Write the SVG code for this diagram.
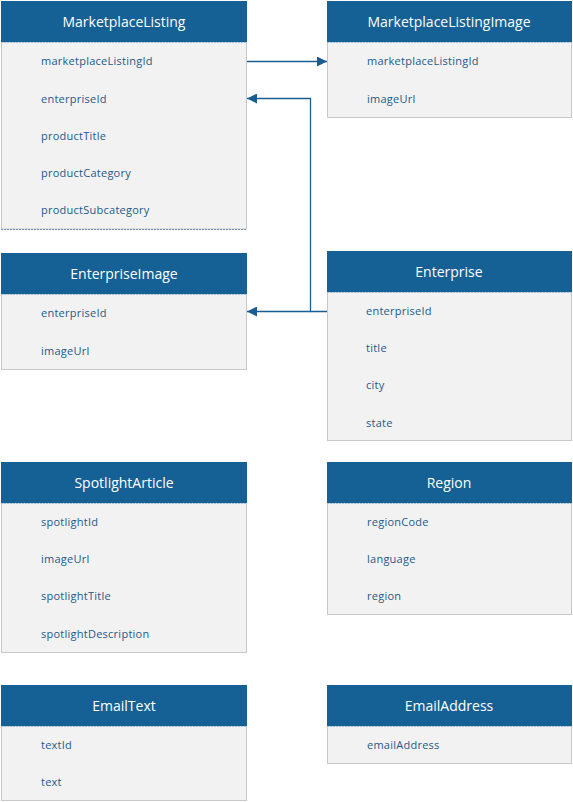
<svg xmlns="http://www.w3.org/2000/svg" width="573" height="802" viewBox="0 0 573 802">
<style>
.hd{fill:#156195}
.bd{fill:#f2f2f2;stroke:#c8c8c8;stroke-width:1}
.sep{stroke:#a9c3d8;stroke-width:1.2;stroke-dasharray:2 1}
.tt{font-family:"Open Sans","Liberation Sans",sans-serif;font-size:14px;fill:#ffffff;text-anchor:middle}
.f{font-family:"Open Sans","Liberation Sans",sans-serif;font-size:11px;fill:#1d5a8a;letter-spacing:0.25px}
.c{fill:none;stroke:#1a5e91;stroke-width:1.3}
</style>
<defs>
<marker id="ah" viewBox="0 0 10 10" refX="10" refY="5" markerWidth="10" markerHeight="10" markerUnits="userSpaceOnUse" orient="auto">
<path d="M0,0 L10,5 L0,10 Z" fill="#1a5e91"/>
</marker>
</defs>
<rect width="573" height="802" fill="#ffffff"/>
<g id="MarketplaceListing">
<rect class="bd" x="1.5" y="42" width="245" height="187"/>
<line x1="1" y1="229.5" x2="247" y2="229.5" stroke="#6f8fb0" stroke-width="1.2" stroke-dasharray="2 1"/>
<rect class="hd" x="1" y="1" width="246" height="41"/>
<line class="sep" x1="1" y1="42.5" x2="247" y2="42.5"/>
<text class="tt" x="124" y="27">MarketplaceListing</text>
<text class="f" x="41" y="65">marketplaceListingId</text>
<text class="f" x="41" y="103">enterpriseId</text>
<text class="f" x="41" y="140">productTitle</text>
<text class="f" x="41" y="177">productCategory</text>
<text class="f" x="41" y="214">productSubcategory</text>
</g>
<g id="MarketplaceListingImage">
<rect class="bd" x="327.5" y="42" width="244" height="75.5"/>
<rect class="hd" x="327" y="1" width="245" height="41"/>
<line class="sep" x1="327" y1="42.5" x2="572" y2="42.5"/>
<text class="tt" x="449" y="27">MarketplaceListingImage</text>
<text class="f" x="367" y="65">marketplaceListingId</text>
<text class="f" x="367" y="103">imageUrl</text>
</g>
<g id="EnterpriseImage">
<rect class="bd" x="1.5" y="294" width="245" height="75.5"/>
<rect class="hd" x="1" y="253" width="246" height="41"/>
<line class="sep" x1="1" y1="294.5" x2="247" y2="294.5"/>
<text class="tt" x="124" y="279">EnterpriseImage</text>
<text class="f" x="41" y="317">enterpriseId</text>
<text class="f" x="41" y="355">imageUrl</text>
</g>
<g id="Enterprise">
<rect class="bd" x="327.5" y="292" width="244" height="148.5"/>
<rect class="hd" x="327" y="251" width="245" height="41"/>
<line class="sep" x1="327" y1="292.5" x2="572" y2="292.5"/>
<text class="tt" x="449" y="277">Enterprise</text>
<text class="f" x="366" y="315">enterpriseId</text>
<text class="f" x="366" y="352">title</text>
<text class="f" x="366" y="389">city</text>
<text class="f" x="366" y="427">state</text>
</g>
<g id="SpotlightArticle">
<rect class="bd" x="1.5" y="503" width="245" height="149.5"/>
<rect class="hd" x="1" y="462" width="246" height="41"/>
<line class="sep" x1="1" y1="503.5" x2="247" y2="503.5"/>
<text class="tt" x="124" y="488">SpotlightArticle</text>
<text class="f" x="41" y="526">spotlightId</text>
<text class="f" x="41" y="563">imageUrl</text>
<text class="f" x="41" y="600">spotlightTitle</text>
<text class="f" x="41" y="638">spotlightDescription</text>
</g>
<g id="Region">
<rect class="bd" x="327.5" y="503" width="244" height="111.5"/>
<rect class="hd" x="327" y="462" width="245" height="41"/>
<line class="sep" x1="327" y1="503.5" x2="572" y2="503.5"/>
<text class="tt" x="449" y="488">Region</text>
<text class="f" x="367" y="526">regionCode</text>
<text class="f" x="367" y="563">language</text>
<text class="f" x="367" y="600">region</text>
</g>
<g id="EmailText">
<rect class="bd" x="1.5" y="726" width="245" height="74.5"/>
<rect class="hd" x="1" y="685" width="246" height="41"/>
<line class="sep" x1="1" y1="726.5" x2="247" y2="726.5"/>
<text class="tt" x="124" y="711">EmailText</text>
<text class="f" x="41" y="749">textId</text>
<text class="f" x="41" y="786">text</text>
</g>
<g id="EmailAddress">
<rect class="bd" x="327.5" y="726" width="244" height="37.5"/>
<rect class="hd" x="327" y="685" width="245" height="41"/>
<line class="sep" x1="327" y1="726.5" x2="572" y2="726.5"/>
<text class="tt" x="449" y="711">EmailAddress</text>
<text class="f" x="367" y="749">emailAddress</text>
</g>
<g id="connectors">
<path class="c" d="M247,61.5 L327,61.5" marker-end="url(#ah)"/>
<path class="c" d="M327,311.5 L310.5,311.5 L310.5,98.5 L247,98.5" marker-end="url(#ah)"/>
<path class="c" d="M310.5,311.5 L247,311.5" marker-end="url(#ah)"/>
</g>
</svg>
